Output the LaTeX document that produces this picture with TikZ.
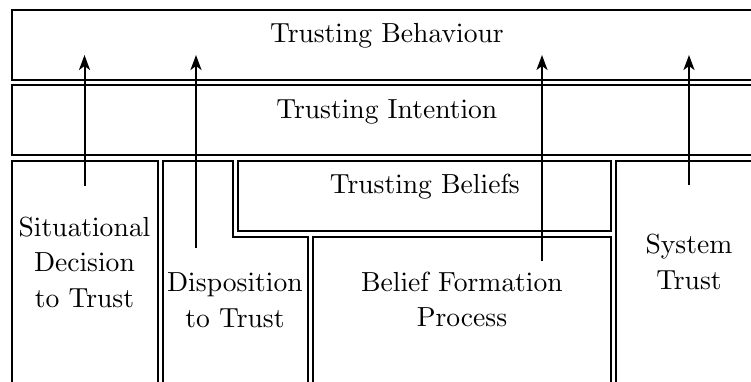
\documentclass[tikz,border=0pt]{standalone}
\usetikzlibrary{arrows.meta}
\font\diagfont=cmr10 at 13.8pt
\begin{document}
\begin{tikzpicture}[x=0.5pt,y=-0.5pt,
  frame/.style={line width=1pt, line join=miter},
  lbl/.style={inner sep=0pt, anchor=base, font=\diagfont},
  flow/.style={line width=1pt, -{Stealth[length=7.5pt,width=5.5pt,inset=2pt]}}]
\useasboundingbox (0,0) rectangle (751,381);
\clip (0,0) rectangle (751,381);
% boxes
\draw[frame] (11.5,10) rectangle (780,79.5);
\draw[frame] (11.5,85) rectangle (780,155);
\draw[frame] (11.5,400) -- (11.5,160.5) -- (158,160.5) -- (158,400);
\draw[frame] (162.5,400) -- (162.5,160.5) -- (233,160.5) -- (233,236.5) -- (308,236.5) -- (308,400);
\draw[frame] (238,160.5) rectangle (611,230.5);
\draw[frame] (313,400) -- (313,236.5) -- (611,236.5) -- (611,400);
\draw[frame] (616,400) -- (616,160.5) -- (780,160.5);
% labels
\node[lbl] (beh) at (387,42.5) {Trusting Behaviour};
\node[lbl] (int) at (387,118) {Trusting Intention};
\node[lbl] (bel) at (425,193.3) {Trusting Beliefs};
\node[lbl] (sit1) at (84.5,236) {Situational};
\node[lbl] (sit2) at (84.5,271.7) {Decision};
\node[lbl] (sit3) at (84.5,307) {to Trust};
\node[lbl] (dis1) at (235,291.7) {Disposition};
\node[lbl] (dis2) at (235,327.5) {to Trust};
\node[lbl] (frm1) at (462,291.7) {Belief Formation};
\node[lbl] (frm2) at (462,326.7) {Process};
\node[lbl] (sys1) at (689,253) {System};
\node[lbl] (sys2) at (689,289.5) {Trust};
% arrows
\coordinate (a1s) at (84.5,186);  \coordinate (a1e) at (84.5,55);
\coordinate (a2s) at (196,248);   \coordinate (a2e) at (196,55);
\coordinate (a3s) at (542,261);   \coordinate (a3e) at (542,55);
\coordinate (a4s) at (689,185);   \coordinate (a4e) at (689,55);
\draw[flow] (a1s) -- (a1e);
\draw[flow] (a2s) -- (a2e);
\draw[flow] (a3s) -- (a3e);
\draw[flow] (a4s) -- (a4e);
\end{tikzpicture}
\end{document}
